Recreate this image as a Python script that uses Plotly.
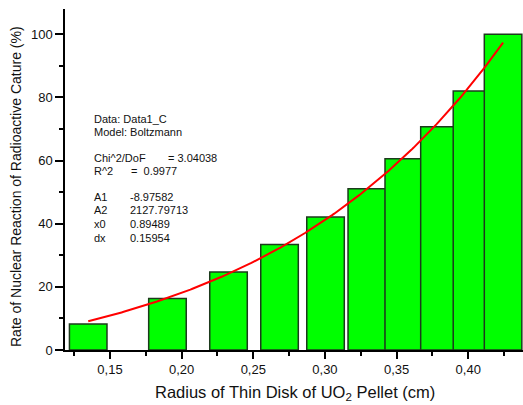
import numpy as np
import plotly.graph_objects as go

# Measured capture rate per pellet radius
radius_cm = [0.1348, 0.1901, 0.2327, 0.2683, 0.3004, 0.3292, 0.3550, 0.3799, 0.4026, 0.4243]
capture_rate = [8.2, 16.3, 24.7, 33.4, 42.1, 51.1, 60.6, 70.7, 82.0, 100.0]
bar_width = 0.0262

# Boltzmann fit parameters (Origin fit report)
A1 = -8.97582
A2 = 2127.79713
x0 = 0.89489
dx = 0.15954
chi2_dof = "3.04038"
r_squared = "0.9977"

x_ticks = [0.15, 0.20, 0.25, 0.30, 0.35, 0.40]
y_ticks = [0, 20, 40, 60, 80, 100]

fit_x = np.linspace(radius_cm[0], radius_cm[-1], 200)
fit_y = A2 + (A1 - A2) / (1 + np.exp((fit_x - x0) / dx))

FONT = "Liberation Sans, Arial, sans-serif"
INK = "#111111"

fig = go.Figure()
fig.add_trace(go.Bar(
    x=radius_cm, y=capture_rate, width=[bar_width] * len(radius_cm),
    marker=dict(color="#00ff00", line=dict(color="#1c3a1c", width=1.5)),
    showlegend=False,
))
fig.add_trace(go.Scatter(
    x=fit_x, y=fit_y, mode="lines",
    line=dict(color="#ff0000", width=2), showlegend=False,
))

W, H = 523, 405
ML, MR, MT, MB = 65, 0, 9, 55
PW, PH = W - ML - MR, H - MT - MB


def px(x, y):
    return (x - ML) / PW, (H - MB - y) / PH


annotations = []


def label(text, x, y, size=11, **kw):
    ax, ay = px(x, y)
    annotations.append(dict(text=text, x=ax, y=ay, xref="paper", yref="paper",
                            xanchor="left", yanchor="middle", showarrow=False,
                            font=dict(family=FONT, size=size, color=INK), **kw))


label("Data: Data1_C", 92, 119)
label("Model: Boltzmann", 92, 132)
label("Chi^2/DoF", 92, 158)
label("= " + chi2_dof, 166, 158)
label("R^2", 92, 171)
label("=  " + r_squared, 129, 171)
for i, (name, val) in enumerate([("A1", A1), ("A2", A2), ("x0", x0), ("dx", dx)]):
    yy = 197 + i * 13.5
    label(name, 92, yy)
    label(f"{val:.5f}", 128, yy)

# rotated y-axis title
tx, ty = px(16, 187)
annotations.append(dict(
    text="Rate of Nuclear Reaction of Radioactive Cature (%)",
    x=tx, y=ty, xref="paper", yref="paper", xanchor="center", yanchor="middle",
    textangle=-90, showarrow=False, font=dict(family=FONT, size=14, color=INK)))

# x-axis title with a lowered subscript
tx, ty = px(295, 393)
annotations.append(dict(
    text="Radius of Thin Disk of UO<sub>2</sub> Pellet (cm)",
    x=tx, y=ty, xref="paper", yref="paper", xanchor="center", yanchor="middle",
    showarrow=False, font=dict(family=FONT, size=16.5, color=INK)))

fig.update_layout(
    width=W, height=H,
    margin=dict(l=ML, r=MR, t=MT, b=MB, pad=0),
    paper_bgcolor="white", plot_bgcolor="white",
    separators=",.",
    barmode="overlay",
    font=dict(family=FONT, size=13, color=INK),
    annotations=annotations,
    xaxis=dict(
        range=[0.1186, 0.4382], tickvals=x_ticks, tickformat=".2f",
        showgrid=False, zeroline=False, showline=True, linecolor="black", linewidth=1.5,
        ticks="outside", ticklen=7, tickwidth=1.5, tickcolor="black",
        minor=dict(dtick=0.025, tick0=0.125, ticks="outside", ticklen=4, tickwidth=1.5, tickcolor="black"),
        tickfont=dict(size=13),
    ),
    yaxis=dict(
        range=[0, 108], tickvals=y_ticks,
        showgrid=False, zeroline=False, showline=True, linecolor="black", linewidth=1.5,
        ticks="outside", ticklen=8, tickwidth=1.5, tickcolor="black",
        minor=dict(dtick=10, tick0=0, ticks="outside", ticklen=4, tickwidth=1.5, tickcolor="black"),
        tickfont=dict(size=13),
    ),
)

fig.write_html("out.html")
